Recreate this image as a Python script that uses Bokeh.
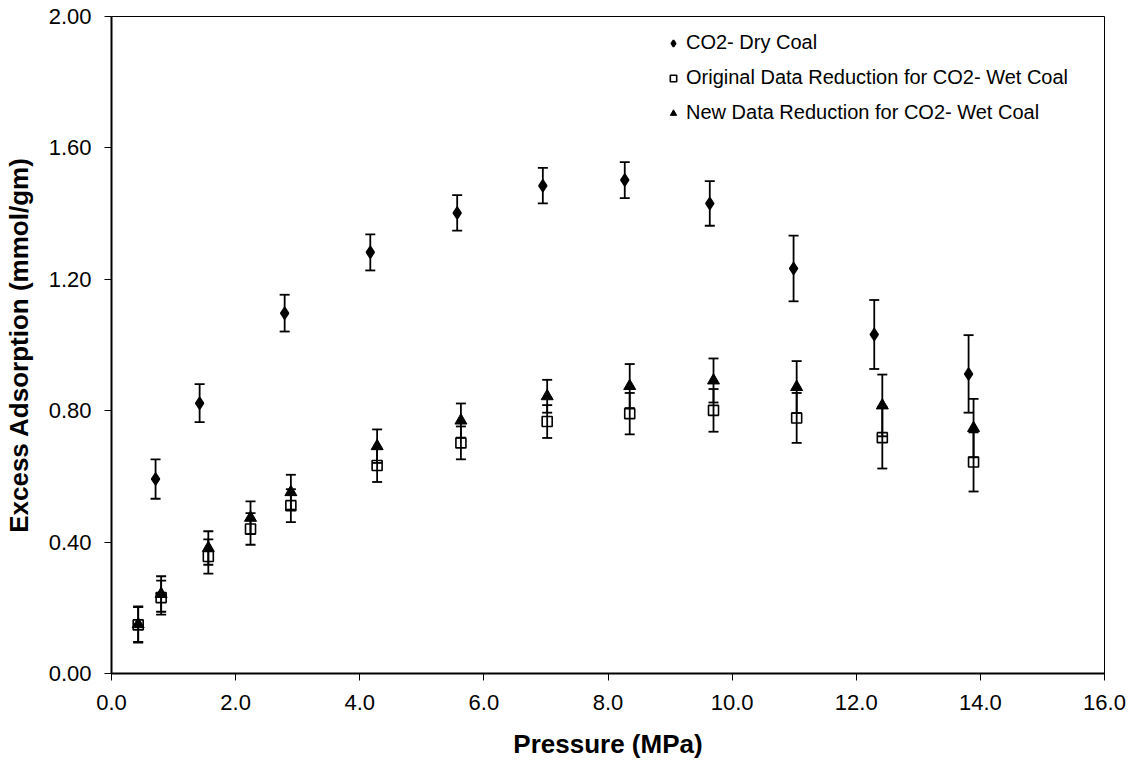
from bokeh.plotting import figure
from bokeh.models import (ColumnDataSource, Whisker, TeeHead, Legend, LegendItem,
                          FixedTicker, NumeralTickFormatter, Range1d)
from bokeh.embed import file_html
from bokeh.resources import INLINE

# ---- data ----
dry_p = [0.71, 1.42, 2.79, 4.17, 5.57, 6.95, 8.27, 9.64, 10.99, 12.29, 13.81]
dry_q = [0.592, 0.823, 1.097, 1.282, 1.402, 1.485, 1.502, 1.431, 1.233, 1.032, 0.912]
dry_err = [0.060, 0.058, 0.056, 0.055, 0.054, 0.054, 0.055, 0.068, 0.100, 0.105, 0.118]

wet_p = [0.43, 0.80, 1.56, 2.24, 2.89, 4.28, 5.63, 7.02, 8.35, 9.70, 11.04, 12.42, 13.89]
orig_q = [0.148, 0.231, 0.356, 0.440, 0.511, 0.633, 0.702, 0.767, 0.791, 0.801, 0.778, 0.718, 0.644]
orig_err = [0.054, 0.052, 0.052, 0.048, 0.050, 0.050, 0.050, 0.050, 0.063, 0.065, 0.076, 0.094, 0.090]
new_q = [0.150, 0.242, 0.382, 0.474, 0.552, 0.692, 0.770, 0.844, 0.875, 0.892, 0.872, 0.816, 0.747]
new_err = [0.054, 0.054, 0.051, 0.050, 0.053, 0.051, 0.052, 0.050, 0.067, 0.067, 0.079, 0.094, 0.089]

labels = ["CO2- Dry Coal",
          "Original Data Reduction for CO2- Wet Coal",
          "New Data Reduction for CO2- Wet Coal"]
x_ticks = [0, 2, 4, 6, 8, 10, 12, 14, 16]
y_ticks = [0.0, 0.4, 0.8, 1.2, 1.6, 2.0]

FONT = "Liberation Sans"


def make_src(x, y, e):
    return ColumnDataSource(dict(x=x, y=y,
                                 upper=[a + b for a, b in zip(y, e)],
                                 lower=[a - b for a, b in zip(y, e)]))


p = figure(width=1139, height=765, output_backend="svg", toolbar_location=None,
           x_range=Range1d(0, 16), y_range=Range1d(0, 2),
           min_border_left=110, min_border_right=35, min_border_top=16, min_border_bottom=92)

p.xgrid.visible = False
p.ygrid.visible = False
p.outline_line_color = "black"
p.outline_line_width = 1
p.background_fill_color = "white"
p.border_fill_color = "white"

for ax in (p.xaxis[0], p.yaxis[0]):
    ax.axis_line_width = 2
    ax.axis_line_color = "black"
    ax.major_tick_out = 7
    ax.major_tick_in = 0
    ax.major_tick_line_width = 1
    ax.major_tick_line_color = "black"
    ax.minor_tick_line_color = None
    ax.major_label_text_font = FONT
    ax.major_label_text_font_size = "22px"
    ax.major_label_text_color = "black"
    ax.axis_label_text_font = FONT
    ax.axis_label_text_font_size = "26px"
    ax.axis_label_text_font_style = "bold"
    ax.axis_label_text_color = "black"

p.xaxis.ticker = FixedTicker(ticks=x_ticks)
p.yaxis.ticker = FixedTicker(ticks=y_ticks)
p.xaxis.formatter = NumeralTickFormatter(format="0.0")
p.yaxis.formatter = NumeralTickFormatter(format="0.00")
p.xaxis.axis_label = "Pressure (MPa)"
p.yaxis.axis_label = "Excess Adsorption (mmol/gm)"
p.xaxis.major_label_standoff = 14
p.xaxis.axis_label_standoff = 16
p.yaxis.major_label_standoff = 13
p.yaxis.axis_label_standoff = 12

src_dry = make_src(dry_p, dry_q, dry_err)
src_orig = make_src(wet_p, orig_q, orig_err)
src_new = make_src(wet_p, new_q, new_err)

r_dry = p.scatter("x", "y", source=src_dry, marker="diamond", size=11.5,
                  fill_color="black", line_color="black", line_width=1.8)
r_orig = p.scatter("x", "y", source=src_orig, marker="square", size=10,
                   fill_color="white", fill_alpha=0, line_color="black", line_width=1.6)
r_new = p.scatter("x", "y", source=src_new, marker="triangle", size=12,
                  fill_color="black", line_color="black", line_width=1)

for src in (src_dry, src_orig, src_new):
    w = Whisker(base="x", upper="upper", lower="lower", source=src, dimension="height",
                line_color="black", line_width=1.8,
                upper_head=TeeHead(size=10, line_width=1.8, line_color="black"),
                lower_head=TeeHead(size=10, line_width=1.8, line_color="black"))
    p.add_layout(w)

legend = Legend(items=[LegendItem(label=labels[0], renderers=[r_dry]),
                       LegendItem(label=labels[1], renderers=[r_orig]),
                       LegendItem(label=labels[2], renderers=[r_new])],
                location=(554, 549), padding=0, margin=0, spacing=12,
                glyph_width=16, glyph_height=20, label_height=20, label_standoff=5,
                label_text_font=FONT, label_text_font_size="20px", label_text_color="black",
                border_line_alpha=0, background_fill_alpha=0)
p.add_layout(legend)

open("out.html", "w").write(file_html(p, INLINE))
